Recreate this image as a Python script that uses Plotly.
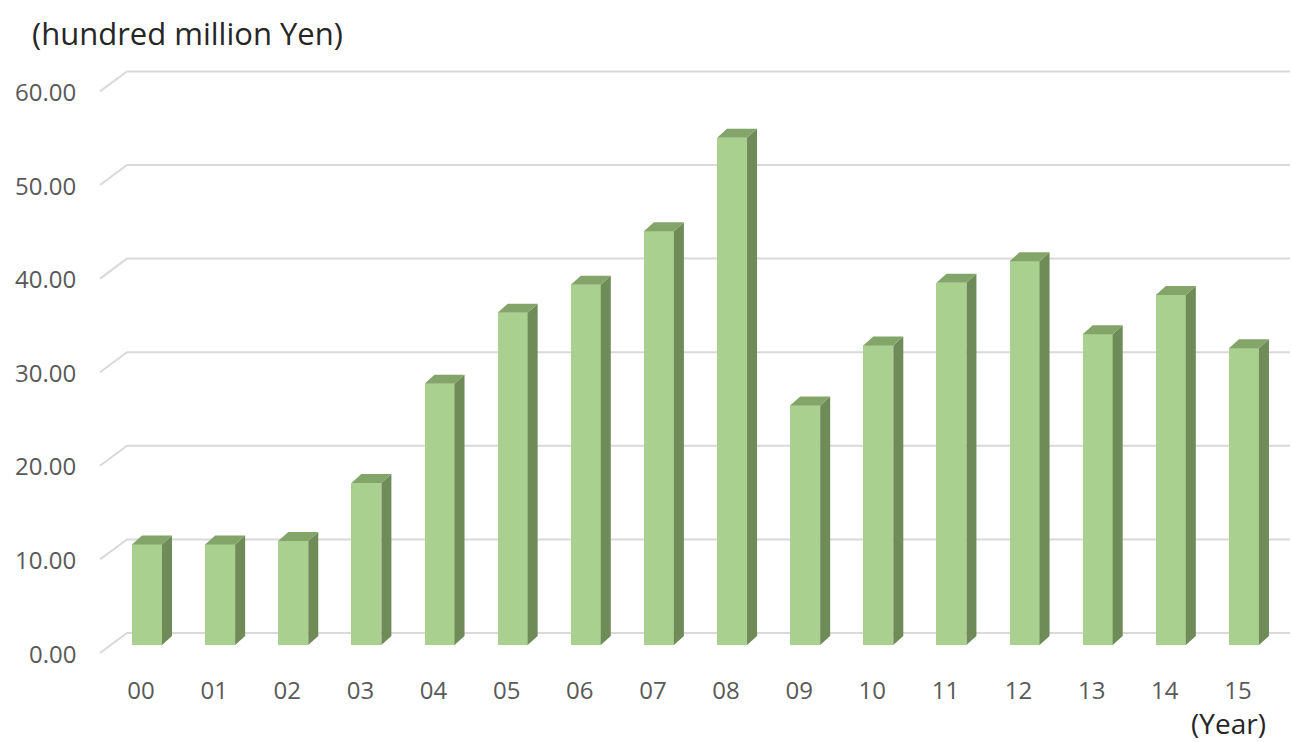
import plotly.graph_objects as go

# Annual amounts (hundred million Yen), fiscal years 2000-2015
years = ["00", "01", "02", "03", "04", "05", "06", "07",
         "08", "09", "10", "11", "12", "13", "14", "15"]
amounts = [10.75, 10.75, 11.1, 17.3, 27.9, 35.5, 38.5, 44.2,
           54.2, 25.6, 32.0, 38.7, 41.0, 33.2, 37.4, 31.7]
grid_values = [0, 10, 20, 30, 40, 50, 60]
grid_labels = ["0.00", "10.00", "20.00", "30.00", "40.00", "50.00", "60.00"]

# ---- canvas geometry (pixels) ----
W, H = 1292, 742
M_L, M_R, M_T, M_B = 95, 0, 50, 82
X0_PX, X_STEP_PX = 141.0, 73.13          # category spacing
Y0_PX, Y_STEP_PX = 645.0, 9.36           # baseline and px per unit

plot_w = W - M_L - M_R
plot_h = H - M_T - M_B


def x_of_px(px):
    return (px - X0_PX) / X_STEP_PX


def paper_x(px):
    return (px - M_L) / plot_w


def paper_y(py):
    return (H - M_B - py) / plot_h


x_range = [x_of_px(M_L), x_of_px(W - M_R)]
y_range = [(Y0_PX - (H - M_B)) / Y_STEP_PX, (Y0_PX - M_T) / Y_STEP_PX]

# 3D look: bar face width/offset, and the depth projection
BAR_W = 30 / X_STEP_PX
BAR_OFF = 6 / X_STEP_PX - BAR_W / 2
DX = 10 / X_STEP_PX
DY = 9 / Y_STEP_PX

FRONT = "#a9d08e"
TOP = "#84a56a"
SIDE = "#6e8b58"
GRID = "#d9d9d9"
FONT = "Open Sans"

xs = list(range(len(years)))

fig = go.Figure()

fig.add_trace(go.Bar(
    x=xs, y=amounts, width=BAR_W, offset=BAR_OFF,
    marker=dict(color=FRONT, line=dict(width=0)),
    hoverinfo="y", showlegend=False,
))

# side and top faces of each bar, built from the same values
side_x, side_y, top_x, top_y = [], [], [], []
for i, v in zip(xs, amounts):
    xl = i + BAR_OFF
    xr = xl + BAR_W
    side_x += [xr, xr, xr + DX, xr + DX, xr, None]
    side_y += [0, v, v + DY, DY, 0, None]
    top_x += [xl, xl + DX, xr + DX, xr, xl, None]
    top_y += [v, v + DY, v + DY, v, v, None]

fig.add_trace(go.Scatter(x=side_x, y=side_y, mode="lines", fill="toself",
                         fillcolor=SIDE, line=dict(width=0, color=SIDE),
                         hoverinfo="skip", showlegend=False))
fig.add_trace(go.Scatter(x=top_x, y=top_y, mode="lines", fill="toself",
                         fillcolor=TOP, line=dict(width=0, color=TOP),
                         hoverinfo="skip", showlegend=False))

# back-wall gridlines with the slanted side-wall segment
front_dy = -8 / Y_STEP_PX
back_dy = 12 / Y_STEP_PX
gx_front = x_of_px(100)
gx_back = x_of_px(127)
gx_end = x_of_px(1290)
shapes = []
for v in grid_values:
    path = (f"M {gx_front},{v + front_dy} L {gx_back},{v + back_dy} "
            f"L {gx_end},{v + back_dy}")
    shapes.append(dict(type="path", path=path, xref="x", yref="y",
                       layer="below", line=dict(color=GRID, width=2)))

annotations = []
for v, lab in zip(grid_values, grid_labels):
    annotations.append(dict(
        text=lab, xref="paper", yref="y", x=paper_x(78), y=v + front_dy,
        xanchor="right", yanchor="middle", showarrow=False,
        font=dict(family=FONT, size=24, color="#595959")))

annotations.append(dict(
    text="(hundred million Yen)", xref="paper", yref="paper",
    x=paper_x(30), y=paper_y(33), xanchor="left", yanchor="middle",
    showarrow=False, font=dict(family=FONT, size=31, color="#262626")))
annotations.append(dict(
    text="(Year)", xref="paper", yref="paper",
    x=paper_x(1268), y=paper_y(723), xanchor="right", yanchor="middle",
    showarrow=False, font=dict(family=FONT, size=28, color="#262626")))

fig.update_layout(
    width=W, height=H,
    margin=dict(l=M_L, r=M_R, t=M_T, b=M_B, pad=0),
    paper_bgcolor="white", plot_bgcolor="white",
    shapes=shapes, annotations=annotations,
    bargap=0,
    xaxis=dict(range=x_range, tickmode="array", tickvals=xs, ticktext=years,
               showgrid=False, zeroline=False, showline=False, ticks="",
               ticklabelstandoff=14,
               tickfont=dict(family=FONT, size=24, color="#595959")),
    yaxis=dict(range=y_range, showgrid=False, zeroline=False,
               showline=False, showticklabels=False, ticks=""),
)

fig.write_html("out.html")
